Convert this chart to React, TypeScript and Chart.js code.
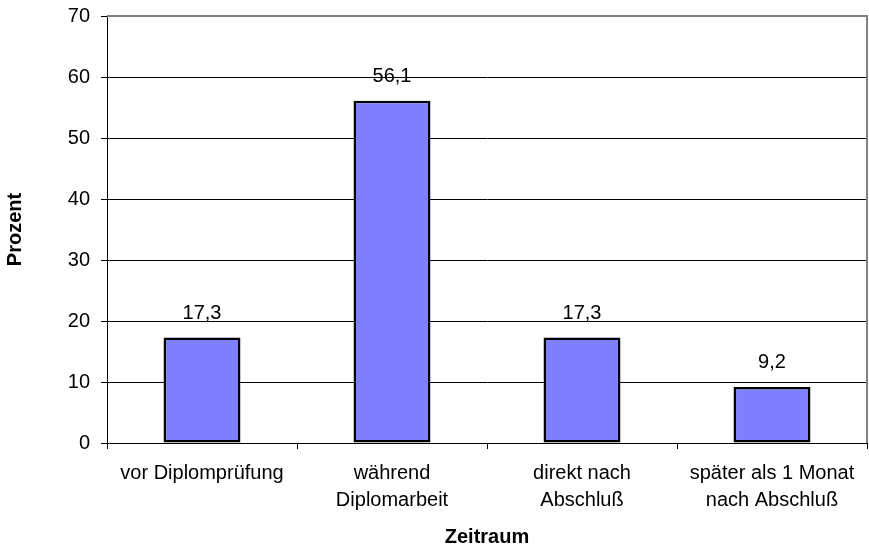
import React, { useEffect, useRef } from "react";
import { Chart, registerables } from "chart.js";

Chart.register(...registerables);

const categories: string[][] = [
  ["vor Diplomprüfung"],
  ["während", "Diplomarbeit"],
  ["direkt nach", "Abschluß"],
  ["später als 1 Monat", "nach Abschluß"],
];
const values: number[] = [17.3, 56.1, 17.3, 9.2];
const valueLabels: string[] = ["17,3", "56,1", "17,3", "9,2"];
const yMin = 0;
const yMax = 70;
const yStep = 10;
const yTitle = "Prozent";
const xTitle = "Zeitraum";

const FONT = "'Liberation Sans', Arial, sans-serif";

const valueLabelPlugin = {
  id: "valueLabels",
  afterDatasetsDraw(chart: any) {
    const ctx = chart.ctx;
    const meta = chart.getDatasetMeta(0);
    ctx.save();
    ctx.font = `20px ${FONT}`;
    ctx.fillStyle = "#000";
    ctx.textAlign = "center";
    ctx.textBaseline = "middle";
    meta.data.forEach((bar: any, i: number) => {
      ctx.fillText(valueLabels[i], bar.x, bar.y - 24);
    });
    ctx.restore();
  },
};

const framePlugin = {
  id: "frame",
  afterDraw(chart: any) {
    const { ctx, chartArea } = chart;
    ctx.save();
    ctx.strokeStyle = "#808080";
    ctx.lineWidth = 2;
    ctx.beginPath();
    ctx.moveTo(chartArea.left, chartArea.top);
    ctx.lineTo(chartArea.right, chartArea.top);
    ctx.lineTo(chartArea.right, chartArea.bottom);
    ctx.stroke();
    ctx.restore();
  },
};

export default function App() {
  const canvasRef = useRef<HTMLCanvasElement | null>(null);

  useEffect(() => {
    if (!canvasRef.current) return;
    const chart = new Chart(canvasRef.current, {
      type: "bar",
      data: {
        labels: categories,
        datasets: [
          {
            data: values,
            backgroundColor: "#8080FF",
            borderColor: "#000000",
            borderWidth: 2.5,
            borderSkipped: false,
            barPercentage: 0.405,
            categoryPercentage: 1,
          },
        ],
      },
      options: {
        animation: false,
        responsive: true,
        maintainAspectRatio: false,
        layout: { padding: { left: 0, right: 2, top: 16, bottom: 0 } },
        plugins: {
          legend: { display: false },
          tooltip: { enabled: false },
        },
        scales: {
          x: {
            grid: {
              display: true,
              drawOnChartArea: false,
              drawTicks: true,
              tickLength: 6,
              color: "#000",
              lineWidth: 1,
            },
            border: { display: true, color: "#000", width: 1 },
            ticks: {
              color: "#000",
              font: { family: FONT, size: 20, lineHeight: 1.35 },
              padding: 11,
              maxRotation: 0,
              autoSkip: false,
            },
            title: {
              display: true,
              text: xTitle,
              color: "#000",
              font: { family: FONT, size: 20, weight: "bold" },
              padding: { top: 1, bottom: 1 },
            },
            afterFit(scale: any) {
              scale.height = 107;
              scale.paddingLeft = 0;
              scale.paddingRight = 0;
            },
          },
          y: {
            min: yMin,
            max: yMax,
            grid: {
              color: "#000",
              lineWidth: 1,
              drawTicks: true,
              tickLength: 6,
            },
            border: { display: true, color: "#000", width: 1 },
            ticks: {
              stepSize: yStep,
              color: "#000",
              font: { family: FONT, size: 20 },
              padding: 11,
            },
            title: {
              display: true,
              text: yTitle,
              color: "#000",
              font: { family: FONT, size: 20, weight: "bold" },
              padding: { top: 3, bottom: 3 },
            },
            afterFit(scale: any) {
              scale.width = 107;
              scale.paddingTop = 0;
              scale.paddingBottom = 0;
            },
          },
        },
      },
      plugins: [valueLabelPlugin, framePlugin],
    } as any);
    return () => chart.destroy();
  }, []);

  return (
    <div style={{ position: "absolute", left: 0, top: 0, width: 869, height: 550 }}>
      <canvas ref={canvasRef} />
    </div>
  );
}
